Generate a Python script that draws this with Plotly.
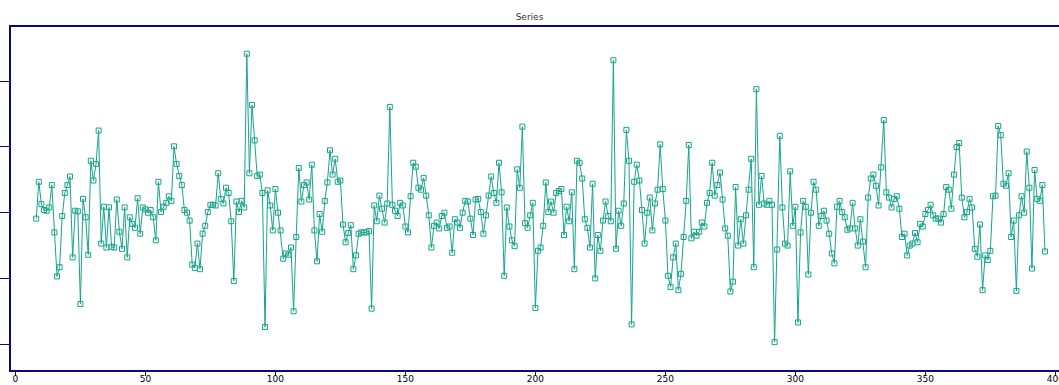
import plotly.graph_objects as go

# Series index starts at 8 and runs one step per observation
x_start = 8

values_a = [
    -0.09, 0.47, 0.13, 0.04, 0.03, 0.08, 0.42, -0.30, -0.97, -0.83,
    -0.05, 0.30, 0.42, 0.55, -0.68, 0.03, 0.02, -1.39, 0.21, -0.07,
    -0.64, 0.79, 0.49, 0.74, 1.25, -0.47, 0.09, -0.53, 0.08, -0.52,
    -0.53, 0.20, -0.29, -0.55, 0.08, -0.68, -0.07, -0.17, -0.23, 0.22,
    -0.32, 0.08, 0.05, 0.00, 0.04, -0.07, -0.42, 0.47, 0.01, 0.09,
    0.15, 0.25, 0.18, 1.01, 0.74, 0.56, 0.42, 0.04, 0.00, -0.12,
    -0.79, -0.84, -0.47, -0.86, -0.32, -0.20, 0.01, 0.12, 0.12, 0.11,
    0.60, 0.21, 0.14, 0.38, 0.30, -0.13, -1.04, 0.17, 0.01, 0.18,
    0.08, 2.42, 0.60, 1.64, 1.10, 0.56, 0.58, 0.30, -1.74, 0.34,
    0.11, -0.27, 0.36, 0.00, -0.27, -0.70, -0.62, -0.64, -0.53,
]

values_b = [
    -1.50, -0.37, 0.68, 0.17, 0.42, 0.46, 0.20, 0.73, -0.27, -0.74,
    -0.02, -0.29, 0.18, 0.46, 0.95, 0.58, 0.82, 0.47, 0.49, -0.18,
    -0.45, -0.31, -0.19, -0.86, -0.65, -0.32, -0.30, -0.30, -0.30, -0.28,
    -1.46, 0.11, -0.13, 0.26, 0.06, -0.15, 0.14, 1.61, 0.12, 0.03,
    -0.05, 0.15, 0.11, -0.21, -0.30, 0.25, 0.76, 0.70, 0.38, 0.35,
    0.53, 0.26, -0.04, -0.53, -0.20, -0.15, -0.24, -0.05, 0.00, -0.23,
    -0.21, -0.61, -0.10, -0.15, -0.23, 0.00, 0.18, 0.17, -0.09, -0.34,
    0.20, 0.21, 0.01, -0.32, -0.04, 0.26, 0.55, 0.30, 0.15, 0.76,
    0.31, -0.96, 0.08, -0.21, -0.42, -0.51, 0.66, 0.38, 1.31, -0.16,
    -0.23, -0.04, 0.15, -1.45, -0.58, -0.53, -0.20, 0.46, 0.01, 0.17,
    0.00, 0.30, 0.33, 0.36, -0.34, 0.09, -0.13, 0.31, -0.86,
]

values_c = [
    0.79, 0.76, 0.52, -0.10, -0.23, -0.53, 0.44, -1.00, -0.34, -0.58,
    -0.12, 0.17, -0.05, -0.13, 2.32, -0.55, 0.03, -0.20, 0.14, 1.26,
    0.79, -1.70, 0.47, 0.73, 0.49, 0.04, -0.47, 0.00, 0.23, -0.27,
    0.14, 0.35, 1.04, 0.36, -0.12, -0.96, -1.13, -0.68, -0.47, -1.18,
    -0.93, -0.37, 0.18, 1.03, -0.39, -0.29, -0.35, -0.29, -0.15, -0.21,
    0.15, 0.30, 0.76, 0.26, 0.42, 0.61, 0.20, -0.24, -0.35, -1.20,
    -1.05, 0.39, -0.50, -0.10, -0.47, -0.04, 0.35, 0.82, -0.83, 1.88,
    0.12, 0.56, 0.14, 0.12, 0.18, 0.12, -1.97, -0.56, 1.17, 0.08,
    -0.47, -0.50, 0.63, -0.20, 0.09, -1.67, -0.30, 0.18, 0.09, -0.94,
    0.00, 0.47, 0.35, -0.20, -0.05, 0.03, -0.12, -0.32, -0.62, -0.77,
    0.09, 0.18, 0.01, -0.07, -0.26, -0.24, 0.15, -0.24, -0.50, -0.10,
]

values_d = [
    -0.44, -0.83, 0.23, 0.52, 0.58, 0.41, 0.11, 0.69, 1.41, 0.31,
    0.23, 0.08, 0.21, 0.25, 0.06, -0.37, -0.32, -0.65, -0.50, -0.47,
    -0.31, -0.45, -0.17, -0.21, -0.02, 0.04, 0.12, -0.04, -0.09, -0.09,
    -0.15, -0.02, 0.39, 0.35, 0.06, 0.58, 1.00, 1.06, 0.23, -0.07,
    0.01, 0.21, 0.08, -0.55, -0.67, -0.18, -1.18, -0.65, -0.72, -0.58,
    0.25, 0.26, 1.32, 1.18, 0.44, 0.41, 0.60, -0.37, -0.12, -1.19,
    -0.04, 0.25, 0.00, 0.93, 0.38, -0.85, 0.65, 0.21, 0.18, 0.42,
    -0.59,
]

values = values_a + values_b + values_c + values_d
x_vals = list(range(x_start, x_start + len(values)))

x_tick_vals = [0, 50, 100, 150, 200, 250, 300, 350, 400]
y_tick_vals = [-2, -1, 0, 1, 2]

series_color = "#16a58b"
axis_color = "#0a0a80"

fig = go.Figure()
fig.add_trace(go.Scatter(
    x=x_vals,
    y=values,
    mode="lines+markers",
    line=dict(color=series_color, width=1),
    marker=dict(symbol="square-open", size=5, color=series_color,
                line=dict(width=1, color=series_color)),
    name="Series",
    showlegend=False,
))

fig.update_layout(
    width=1059,
    height=385,
    margin=dict(l=11, r=0, t=27, b=15),
    paper_bgcolor="white",
    plot_bgcolor="white",
    title=dict(text="Series", x=0.5, xanchor="center", y=0.955, yanchor="middle",
               font=dict(family="DejaVu Sans", size=9, color="#333333")),
    xaxis=dict(
        range=[-1.7, 401.4],
        tickvals=x_tick_vals,
        ticks="outside",
        ticklen=4,
        tickcolor=axis_color,
        showline=True,
        linecolor=axis_color,
        linewidth=1.5,
        mirror=True,
        showgrid=False,
        zeroline=False,
        automargin=False,
        ticklabeloverflow="allow",
        ticklabelstandoff=-5,
        tickfont=dict(family="DejaVu Sans", size=9, color="#000000"),
    ),
    yaxis=dict(
        range=[-2.394, 2.826],
        tickvals=y_tick_vals,
        ticks="outside",
        ticklen=10,
        tickcolor=axis_color,
        showticklabels=False,
        showline=True,
        linecolor=axis_color,
        linewidth=1.5,
        showgrid=False,
        zeroline=False,
        automargin=False,
    ),
)

fig.write_html("out.html")
